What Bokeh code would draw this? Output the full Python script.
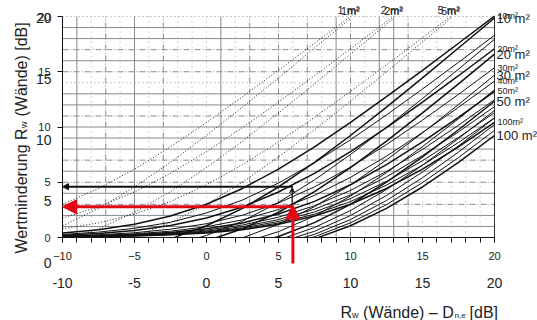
from bokeh.plotting import figure
from bokeh.models import Range1d, FixedTicker, Arrow, NormalHead, VeeHead
from bokeh.core.properties import value
from bokeh.embed import file_html
from bokeh.resources import INLINE

# ---------------- data ----------------
x_ticks = [-10, -5, 0, 5, 10, 15, 20]
y_ticks = [0, 5, 10, 15, 20]
x_minor = list(range(-10, 21))

x_pts = [-10, -7.5, -5, -2.5, 0, 2.5, 5, 7.5, 10, 12.5, 15, 17.5, 20]

# solid curves: Wertminderung [dB] at x_pts, per wall area
solid_areas = [10, 15, 20, 30, 40, 50, 60, 70, 80, 90, 100]
curve_10 = [0.41, 0.71, 1.19, 1.94, 3.01, 4.44, 6.19, 8.21, 10.41, 12.74, 15.13, 17.58, 20.04]
curve_15 = [0.28, 0.49, 0.83, 1.38, 2.22, 3.39, 4.93, 6.77, 8.85, 11.09, 13.44, 15.85, 18.30]
curve_20 = [0.21, 0.37, 0.64, 1.08, 1.76, 2.76, 4.12, 5.81, 7.78, 9.95, 12.26, 14.64, 17.08]
curve_30 = [0.14, 0.25, 0.43, 0.75, 1.25, 2.02, 3.13, 4.58, 6.37, 8.41, 10.62, 12.95, 15.36]
curve_40 = [0.11, 0.19, 0.33, 0.57, 0.97, 1.60, 2.53, 3.81, 5.44, 7.36, 9.50, 11.78, 14.15]
curve_50 = [0.09, 0.15, 0.27, 0.46, 0.79, 1.32, 2.13, 3.27, 4.77, 6.59, 8.65, 10.88, 13.22]
curve_60 = [0.07, 0.13, 0.22, 0.39, 0.67, 1.13, 1.84, 2.87, 4.26, 5.98, 7.97, 10.16, 12.47]
curve_70 = [0.06, 0.11, 0.19, 0.34, 0.58, 0.98, 1.62, 2.56, 3.85, 5.49, 7.42, 9.56, 11.84]
curve_80 = [0.05, 0.10, 0.17, 0.29, 0.51, 0.87, 1.45, 2.31, 3.52, 5.08, 6.95, 9.05, 11.30]
curve_90 = [0.05, 0.09, 0.15, 0.26, 0.46, 0.78, 1.31, 2.11, 3.25, 4.74, 6.55, 8.60, 10.83]
curve_100 = [0.04, 0.08, 0.14, 0.24, 0.41, 0.71, 1.19, 1.94, 3.01, 4.44, 6.19, 8.21, 10.41]
solid_curves = [curve_10, curve_15, curve_20, curve_30, curve_40, curve_50,
                curve_60, curve_70, curve_80, curve_90, curve_100]

# dotted curves for small areas (they leave the chart at the top)
dot_1_x = [-10, -7.5, -5, -2.5, 0, 2.5, 5, 7.5, 10.0]
dot_1_y = [3.01, 4.44, 6.19, 8.21, 10.41, 12.74, 15.13, 17.58, 20.0]
dot_2_x = [-10, -7.5, -5, -2.5, 0, 2.5, 5, 7.5, 10, 12.5, 13.0]
dot_2_y = [1.76, 2.76, 4.12, 5.81, 7.78, 9.95, 12.26, 14.64, 17.08, 19.54, 20.0]
dot_5_x = [-10, -7.5, -5, -2.5, 0, 2.5, 5, 7.5, 10, 12.5, 15, 16.95]
dot_5_y = [0.79, 1.32, 2.13, 3.27, 4.77, 6.59, 8.65, 10.88, 13.22, 15.63, 18.08, 20.0]
dot_xs = [dot_1_x, dot_2_x, dot_5_x]
dot_ys = [dot_1_y, dot_2_y, dot_5_y]
top_labels_small = ["1m²", "2m²", "5m²"]
top_labels_big = ["1 m²", "2 m²", "5 m²"]

# labels at the right edge
right_small_text = ["10m²", "20m²", "30m²", "40m²", "50m²", "100m²"]
right_small_y = [20.04, 17.08, 15.36, 14.15, 13.22, 10.41]
right_big_text = ["10 m²", "20 m²", "30 m²", "50 m²", "100 m²"]
right_big_y = [20.04, 17.08, 15.36, 13.22, 10.41]

# grid levels
hgrid_solid = [1, 2, 4, 6, 8, 9, 10, 12, 13, 16, 18, 19]
hgrid_dashdot = [3, 5, 7, 11, 15, 17]
hgrid_dotted = [14, 20]
vgrid_solid = [-9, -5, 1, 9, 12, 13]
vgrid_dashdot = [-7, -3, 3, 5, 7, 10, 14]
vgrid_dotted = [-8, -6, -4, -2, -1, 0, 2, 4, 6, 8, 11, 15, 16, 17, 18, 19]

# worked example
example_x = 6.0
example_red_y = 2.78
example_black_y = 4.6
example_start_y = -2.35

RED = "#e30613"
FONT = "Liberation Sans"
TXT = "#222222"

# ---------------- figure ----------------
W, H = 537, 320
p = figure(width=W, height=H, output_backend="svg", toolbar_location=None,
           x_range=Range1d(-14.306, 22.986), y_range=Range1d(-7.511, 21.448),
           min_border=0, min_border_left=0, min_border_right=0,
           min_border_top=0, min_border_bottom=0)
p.extra_y_ranges = {"b": Range1d(-4.754, 21.475)}
p.outline_line_color = None
p.xgrid.visible = False
p.ygrid.visible = False
p.background_fill_color = "white"
p.border_fill_color = "white"

# grid lines
p.segment(x0=-10, x1=20, y0=hgrid_solid, y1=hgrid_solid, line_color="#8a8a8a", line_width=1)
p.segment(x0=-10, x1=20, y0=hgrid_dashdot, y1=hgrid_dashdot, line_color="#8a8a8a",
          line_width=1, line_dash="6 2 1 2")
p.segment(x0=-10, x1=20, y0=hgrid_dotted, y1=hgrid_dotted, line_color="#999999",
          line_width=1, line_dash="1 3")
p.segment(x0=vgrid_solid, x1=vgrid_solid, y0=0, y1=20, line_color="#8a8a8a", line_width=1)
p.segment(x0=vgrid_dashdot, x1=vgrid_dashdot, y0=0, y1=20, line_color="#8a8a8a",
          line_width=1, line_dash="6 2 1 2")
p.segment(x0=vgrid_dotted, x1=vgrid_dotted, y0=0, y1=20, line_color="#aaaaaa",
          line_width=1, line_dash="1 4")
p.segment(x0=20, x1=20, y0=0, y1=20, line_color="#333333", line_width=1)

# curves, both overlays (first and second vertical scale)
for rng in ("default", "b"):
    for xs, ys in zip(dot_xs, dot_ys):
        p.line(xs, ys, line_color="#222222", line_width=1, line_dash="1 2", y_range_name=rng)
    for area, ys in zip(solid_areas, solid_curves):
        lw = 1.5 if area in (10, 20, 50, 100) else 1.0
        p.line(x_pts, ys, line_color="#111111", line_width=lw, y_range_name=rng)

# blank band below the axis
p.quad(left=-10.5, right=20.6, bottom=-7.5, top=0, fill_color="white", line_color=None)

# axes
p.xaxis.fixed_location = 0
p.yaxis.fixed_location = -10
for ax in (p.xaxis[0], p.yaxis[0]):
    ax.axis_line_color = "#111111"
    ax.major_tick_line_color = "#111111"
    ax.minor_tick_line_color = "#111111"
    ax.major_label_text_font = FONT
    ax.major_label_text_font_size = "11px"
    ax.major_label_text_color = TXT
    ax.major_tick_in = 0
    ax.major_tick_out = 5
p.xaxis[0].ticker = FixedTicker(ticks=x_ticks, minor_ticks=x_minor)
p.xaxis[0].bounds = (-10, 20)
p.xaxis[0].minor_tick_in = 0
p.xaxis[0].minor_tick_out = 5
p.xaxis[0].major_label_standoff = 9
p.yaxis[0].ticker = FixedTicker(ticks=y_ticks, minor_ticks=[])
p.yaxis[0].bounds = (0, 20)
p.yaxis[0].major_label_standoff = 7

# second set of tick labels (overlaid scale)
p.text(x=x_ticks, y=-4.16, text=[str(t) for t in x_ticks], text_font=value(FONT),
       text_font_size="14px", text_align="center", text_baseline="middle", text_color=TXT)
p.text(x=-10, y=y_ticks, text=[str(t) for t in y_ticks], y_range_name="b",
       x_offset=-11, text_font=value(FONT), text_font_size="14px",
       text_align="right", text_baseline="middle", text_color=TXT)

# area labels
p.text(x=20, y=right_small_y, text=right_small_text, x_offset=3, text_font=value(FONT),
       text_font_size="9px", text_align="left", text_baseline="middle", text_color=TXT)
p.text(x=20, y=right_big_y, text=right_big_text, x_offset=2, y_range_name="b",
       text_font=value(FONT), text_font_size="13px", text_align="left",
       text_baseline="middle", text_color=TXT)
top_x = [xs[-1] for xs in dot_xs]
p.text(x=top_x, y=20, text=top_labels_small, y_offset=-6, text_font=value(FONT),
       text_font_size="11px", text_align="center", text_baseline="middle", text_color=TXT)
p.text(x=top_x, y=20, text=top_labels_big, y_offset=-7, x_offset=-2, text_font=value(FONT),
       text_font_size="11px", text_align="center", text_baseline="middle", text_color=TXT)

# x axis title  R_w (Wände) – D_n,e [dB]
xt_x, xt_y = 9.31, -6.75
p.text(x=xt_x, y=xt_y, text=["R"], text_font=value(FONT), text_font_size="16px",
       text_baseline="alphabetic", text_color=TXT)
p.text(x=xt_x, y=xt_y, text=["w"], x_offset=11.5, y_offset=3, text_font=value(FONT),
       text_font_size="9px", text_baseline="alphabetic", text_color=TXT)
p.text(x=xt_x, y=xt_y, text=["(Wände) – D"], x_offset=22.5, text_font=value(FONT),
       text_font_size="16px", text_baseline="alphabetic", text_color=TXT)
p.text(x=xt_x, y=xt_y, text=["n,e"], x_offset=114, y_offset=3, text_font=value(FONT),
       text_font_size="8px", text_baseline="alphabetic", text_color=TXT)
p.text(x=xt_x, y=xt_y, text=["[dB]"], x_offset=129, text_font=value(FONT),
       text_font_size="16px", text_baseline="alphabetic", text_color=TXT)

# y axis title  Wertminderung R_w (Wände) [dB]  (rotated)
yt_x, yt_y = -12.85, -1.45
p.text(x=yt_x, y=yt_y, text=["Wertminderung R"], angle=1.5708, text_font=value(FONT),
       text_font_size="16px", text_baseline="alphabetic", text_color=TXT)
p.text(x=yt_x, y=yt_y, text=["w"], angle=1.5708, y_offset=-125.5, x_offset=3,
       text_font=value(FONT), text_font_size="9px", text_baseline="alphabetic",
       text_color=TXT)
p.text(x=yt_x, y=yt_y, text=["(Wände) [dB]"], angle=1.5708, y_offset=-137,
       text_font=value(FONT), text_font_size="16px", text_baseline="alphabetic",
       text_color=TXT)

# worked example arrows
p.add_layout(Arrow(end=NormalHead(size=6, fill_color="#111111", line_color="#111111"),
                   x_start=example_x, y_start=example_black_y, x_end=-10, y_end=example_black_y,
                   line_color="#111111", line_width=2))
p.add_layout(Arrow(end=VeeHead(size=5, line_color="#111111", line_width=1),
                   x_start=example_x - 0.05, y_start=example_red_y + 0.2,
                   x_end=example_x - 0.05, y_end=example_black_y - 0.1,
                   line_color="#111111", line_width=1.3))
p.add_layout(Arrow(end=NormalHead(size=14, fill_color=RED, line_color=RED),
                   x_start=example_x, y_start=example_red_y, x_end=-10, y_end=example_red_y,
                   line_color=RED, line_width=3))
p.add_layout(Arrow(end=NormalHead(size=14, fill_color=RED, line_color=RED),
                   x_start=example_x, y_start=example_start_y, x_end=example_x,
                   y_end=example_red_y + 0.15, line_color=RED, line_width=3))

open("out.html", "w").write(file_html(p, INLINE))
